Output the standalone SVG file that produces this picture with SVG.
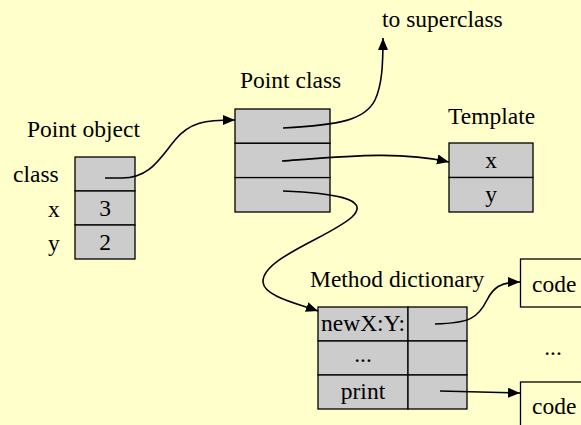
<svg xmlns="http://www.w3.org/2000/svg" width="581" height="425" viewBox="0 0 581 425">
<style>
text{font-family:"Liberation Serif","Times New Roman",serif;font-size:23.5px;fill:#000}
.m{text-anchor:middle}
.cell{fill:#cccccc;stroke:#000;stroke-width:1.3}
.code{fill:#ffffcc;stroke:#000;stroke-width:1.3}
.ln{fill:none;stroke:#000;stroke-width:1.6}
</style>
<defs>
<marker id="ah" markerUnits="userSpaceOnUse" markerWidth="14" markerHeight="12" refX="12" refY="5" orient="auto">
<path d="M0,0 L12,5 L0,10 Z" fill="#000"/>
</marker>
</defs>
<rect width="581" height="425" fill="#ffffcc"/>
<text x="382" y="27">to superclass</text>

<g id="point-object">
<text x="27" y="137">Point object</text>
<rect class="cell" x="75" y="157" width="60" height="34"/>
<rect class="cell" x="75" y="191" width="60" height="34"/>
<rect class="cell" x="75" y="225" width="60" height="34"/>
<text x="13" y="182">class</text>
<text x="48" y="217">x</text>
<text x="48" y="251">y</text>
<text class="m" x="105" y="216">3</text>
<text class="m" x="105" y="250">2</text>
</g>

<g id="point-class">
<text x="240" y="88">Point class</text>
<rect class="cell" x="235" y="109" width="95" height="34.3"/>
<rect class="cell" x="235" y="143.3" width="95" height="34.3"/>
<rect class="cell" x="235" y="177.6" width="95" height="34.4"/>
</g>

<g id="template">
<text x="448" y="124">Template</text>
<rect class="cell" x="449" y="143" width="84" height="34.5"/>
<rect class="cell" x="449" y="177.5" width="84" height="34.5"/>
<text class="m" x="491" y="168">x</text>
<text class="m" x="491" y="202">y</text>
</g>

<g id="method-dictionary">
<text x="310" y="287">Method dictionary</text>
<rect class="cell" x="318" y="307" width="90" height="34"/>
<rect class="cell" x="408" y="307" width="59" height="34"/>
<rect class="cell" x="318" y="341" width="90" height="34"/>
<rect class="cell" x="408" y="341" width="59" height="34"/>
<rect class="cell" x="318" y="375" width="90" height="34"/>
<rect class="cell" x="408" y="375" width="59" height="34"/>
<text class="m" x="363" y="331">newX:Y:</text>
<text class="m" x="363" y="362">...</text>
<text class="m" x="363" y="399">print</text>
</g>

<g id="code1">
<rect class="code" x="520.5" y="259" width="70" height="48"/>
<text x="532" y="292">code</text>
</g>
<g id="code2">
<rect class="code" x="520.5" y="382" width="70" height="60"/>
<text x="532" y="414">code</text>
</g>
<text class="m" x="553" y="355">...</text>

<g id="connectors">
<path class="ln" marker-end="url(#ah)" d="M105,178 L122,178 C150,178 160,158 175,140 C190,122 205,120 235,120"/>
<path class="ln" marker-end="url(#ah)" d="M283,128 C340,125 365,120 375,100 C382,85 383,65 383,38"/>
<path class="ln" marker-end="url(#ah)" d="M282,161 C350,156 400,151 449,162"/>
<path class="ln" marker-end="url(#ah)" d="M283,191 C330,193 372,198 352,217 C330,237 262,258 263,282 C264,296 295,303 318,311"/>
<path class="ln" marker-end="url(#ah)" d="M435,324 C470,323 478,318 487,300 C493,288 500,282 520,282"/>
<path class="ln" marker-end="url(#ah)" d="M440,391 L520,393"/>
</g>
</svg>
